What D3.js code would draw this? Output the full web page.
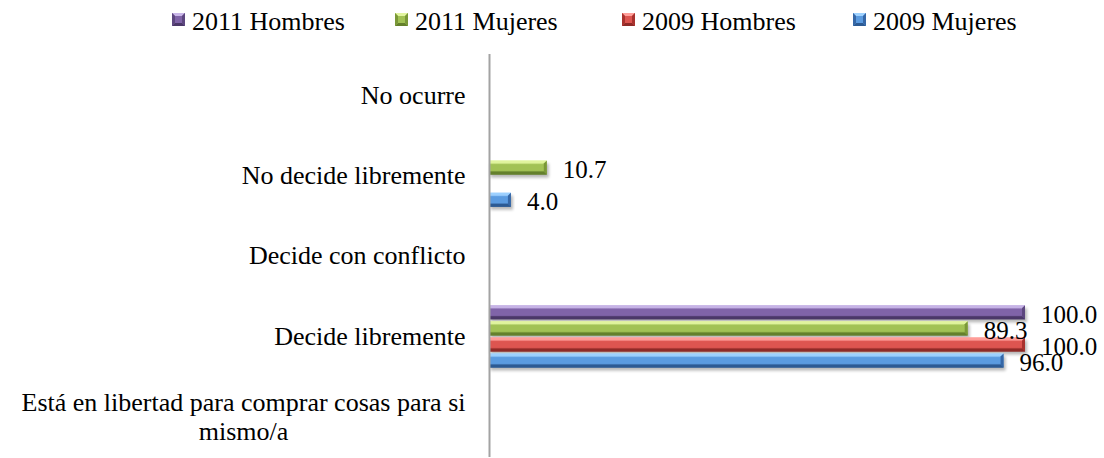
<!DOCTYPE html>
<html>
<head>
<meta charset="utf-8">
<script src="https://cdn.jsdelivr.net/npm/d3@7"></script>
<style>
  html, body { margin: 0; padding: 0; background: #ffffff; }
  svg { display: block; }
</style>
</head>
<body>
<svg id="chart" width="1104" height="458"></svg>
<script>
// ---- data ----
const categories = [
  "No ocurre",
  "No decide libremente",
  "Decide con conflicto",
  "Decide libremente",
  "Está en libertad para comprar cosas para si mismo/a"
];
const seriesNames = ["2011 Hombres", "2011 Mujeres", "2009 Hombres", "2009 Mujeres"];
const hombres2011 = [null, null, null, 100.0, null];
const mujeres2011 = [null, 10.7, null, 89.3, null];
const hombres2009 = [null, null, null, 100.0, null];
const mujeres2009 = [null, 4.0, null, 96.0, null];
const xDomain = [0, 100];

const seriesValues = [hombres2011, mujeres2011, hombres2009, mujeres2009];

// ---- styles ----
const FONT = "'Liberation Serif', 'DejaVu Serif', serif";
const palette = [
  { light: "#c9b6e8", base: "#8064a8", dark: "#4b3868", end: "#5d477f" },
  { light: "#e2f5a0", base: "#a2c255", dark: "#64802c", end: "#7a9838" },
  { light: "#ff9f9a", base: "#dd5550", dark: "#8f2a27", end: "#a8322e" },
  { light: "#9fd2ff", base: "#5b9be0", dark: "#2c5a93", end: "#3667a6" }
];

const svg = d3.select("#chart");
const defs = svg.append("defs");

const shadow = defs.append("filter").attr("id", "shadow")
  .attr("x", "-5%").attr("y", "-50%").attr("width", "110%").attr("height", "200%");
shadow.append("feGaussianBlur").attr("stdDeviation", 1.5);

palette.forEach((p, i) => {
  const g = defs.append("linearGradient").attr("id", "grad" + i)
    .attr("x1", 0).attr("y1", 0).attr("x2", 0).attr("y2", 1);
  g.append("stop").attr("offset", "0%").attr("stop-color", p.light);
  g.append("stop").attr("offset", "30%").attr("stop-color", p.base);
  g.append("stop").attr("offset", "70%").attr("stop-color", p.base);
  g.append("stop").attr("offset", "100%").attr("stop-color", p.dark);
});

// ---- scales ----
const x = d3.scaleLinear().domain(xDomain).range([489.5, 1025]);
const y = d3.scaleBand().domain(categories).range([55, 457]).padding(0);
const y1 = d3.scaleBand().domain(seriesNames).range([0, y.bandwidth()])
  .paddingInner(0).paddingOuter(0.5);
const barH = y1.bandwidth() - 2;

// ---- bars ----
const bevel = 3;
const barsG = svg.append("g");
const barData = [];
seriesValues.forEach((vals, si) => {
  vals.forEach((v, ci) => {
    if (v !== null && v !== undefined) barData.push({ si, ci, v });
  });
});

barData.forEach(d => {
  const x0 = x(0), x1 = x(d.v);
  const y0 = y(categories[d.ci]) + y1(seriesNames[d.si]) + 1;
  const h = barH;
  const p = palette[d.si];
  const g = barsG.append("g");
  g.append("rect").attr("x", x0 + 1).attr("y", y0 + 3).attr("width", x1 - x0 + 1).attr("height", h)
    .attr("fill", "#000").attr("opacity", 0.28).attr("filter", "url(#shadow)");
  g.append("rect").attr("x", x0).attr("y", y0).attr("width", x1 - x0).attr("height", h)
    .attr("fill", `url(#grad${d.si})`);
  const b = Math.min(bevel, (x1 - x0) / 2);
  g.append("polygon").attr("points", [[x0, y0], [x1, y0], [x1 - b, y0 + b], [x0, y0 + b]].join(" "))
    .attr("fill", p.light).attr("opacity", 0.9);
  g.append("polygon").attr("points", [[x0, y0 + h], [x1, y0 + h], [x1 - b, y0 + h - b], [x0, y0 + h - b]].join(" "))
    .attr("fill", p.dark);
  g.append("polygon").attr("points", [[x1, y0], [x1, y0 + h], [x1 - b, y0 + h - b], [x1 - b, y0 + b]].join(" "))
    .attr("fill", p.end);
});

// ---- value labels ----
svg.append("g").selectAll("text").data(barData).join("text")
  .attr("x", d => x(d.v) + 16)
  .attr("y", d => y(categories[d.ci]) + y1(seriesNames[d.si]) + 1 + barH / 2 + 1.5)
  .attr("dy", "0.35em")
  .style("font-family", FONT)
  .style("font-size", "25px")
  .attr("fill", "#000")
  .text(d => d.v.toFixed(1));

// ---- axis ----
const axis = d3.axisLeft(y).tickSize(0).tickSizeOuter(0).tickPadding(24);
const axisG = svg.append("g").attr("transform", `translate(${x(0)},0)`).call(axis);
axisG.attr("font-family", null).attr("font-size", null);
axisG.select(".domain").attr("stroke", "#a3a3a3").attr("stroke-width", 2)
  .attr("d", `M0,${y.range()[0] - 1}V${y.range()[1]}`);
axisG.selectAll(".tick text")
  .style("font-family", FONT)
  .style("font-size", "26px")
  .attr("fill", "#000");

// wrap long labels: lines centred within block, block right-aligned
const maxW = 470;
axisG.selectAll(".tick text").each(function (d) {
  const t = d3.select(this);
  const words = d.split(" ");
  const lines = [];
  let cur = [];
  const tmp = svg.append("text").style("font-family", FONT).style("font-size", "26px");
  words.forEach(w => {
    const test = cur.concat([w]).join(" ");
    tmp.text(test);
    if (tmp.node().getComputedTextLength() > maxW && cur.length) {
      lines.push(cur.join(" "));
      cur = [w];
    } else {
      cur.push(w);
    }
  });
  lines.push(cur.join(" "));
  const widths = lines.map(l => { tmp.text(l); return tmp.node().getComputedTextLength(); });
  tmp.remove();
  if (lines.length > 1) {
    const blockW = Math.max(...widths);
    const cx = -24 - blockW / 2;
    const lh = 29;
    t.text(null).attr("text-anchor", "middle").attr("dy", null).attr("x", null);
    lines.forEach((l, i) => {
      t.append("tspan").attr("x", cx)
        .attr("y", (i - (lines.length - 1) / 2) * lh)
        .attr("dy", "0.35em").text(l);
    });
  }
});

// ---- legend ----
const legendX = [172, 395, 622, 853];
const legendY = 20;
const lg = svg.append("g");
seriesNames.forEach((name, i) => {
  const p = palette[i];
  const mx = legendX[i], my = legendY - 7, s = 13, inset = 3;
  const g = lg.append("g");
  g.append("rect").attr("x", mx).attr("y", my).attr("width", s).attr("height", s).attr("fill", p.base);
  g.append("polygon").attr("points", [[mx, my], [mx + s, my], [mx + s - inset, my + inset], [mx + inset, my + inset]].join(" ")).attr("fill", p.light);
  g.append("polygon").attr("points", [[mx, my + s], [mx + s, my + s], [mx + s - inset, my + s - inset], [mx + inset, my + s - inset]].join(" ")).attr("fill", p.dark);
  g.append("polygon").attr("points", [[mx, my], [mx, my + s], [mx + inset, my + s - inset], [mx + inset, my + inset]].join(" ")).attr("fill", p.end);
  g.append("polygon").attr("points", [[mx + s, my], [mx + s, my + s], [mx + s - inset, my + s - inset], [mx + s - inset, my + inset]].join(" ")).attr("fill", p.end);
  g.append("text").attr("x", mx + s + 7).attr("y", legendY + 1).attr("dy", "0.35em")
    .style("font-family", FONT).style("font-size", "26px").attr("fill", "#000").text(name);
});
</script>
</body>
</html>
